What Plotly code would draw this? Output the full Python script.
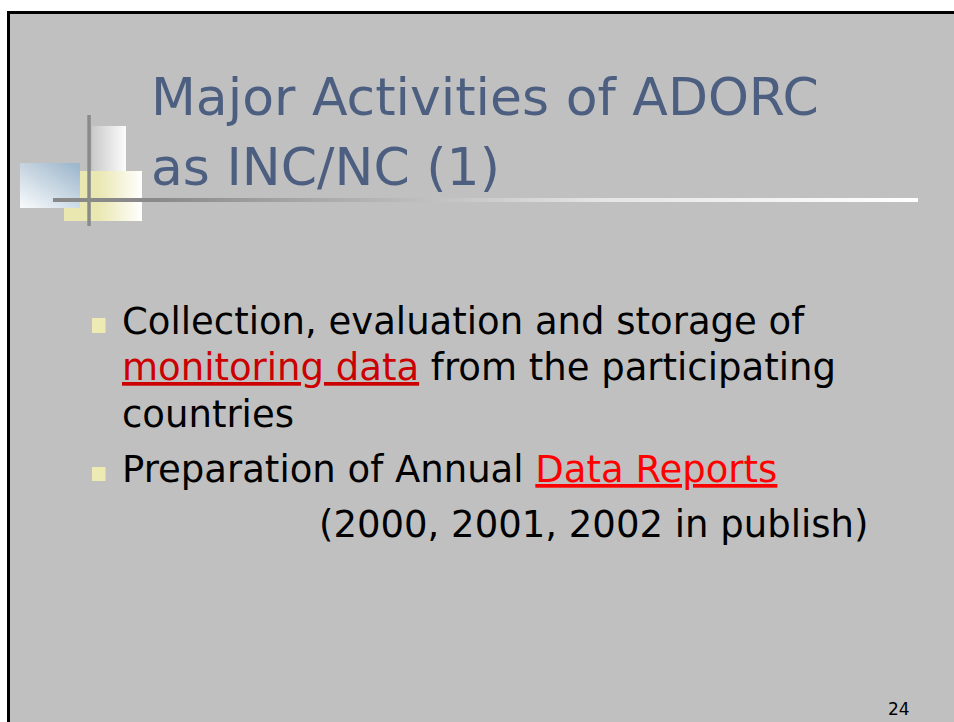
import plotly.graph_objects as go

W, H = 954, 722
FONT = "DejaVu Sans"

# ---- slide content ----
title_lines = ["Major Activities of ADORC", "as INC/NC (1)"]
bullet1_lines = [
    "Collection, evaluation and storage of",
    "<span style='color:#CC0000'><u>monitoring data</u></span> from the participating",
    "countries",
]
bullet2_lines = [
    "Preparation of Annual <span style='color:#FF0000'><u>Data Reports</u></span>",
]
bullet2_sub = ["(2000, 2001, 2002 in publish)"]
page_number = ["24"]

# ---- style / layout constants ----
TITLE_COLOR = "#4D5F80"
TITLE_SIZE = 52
BODY_SIZE = 37
ASC = 0.928  # DejaVu Sans ascender ratio

fig = go.Figure()


def grad_rect(x0, x1, y0, y1, colorscale, kind):
    if kind == "horizontal":
        start, stop = x0, x1
    else:
        start, stop = y0, y1
    fig.add_trace(go.Scatter(
        x=[x0, x1, x1, x0, x0], y=[y0, y0, y1, y1, y0],
        mode="lines", line=dict(width=0), fill="toself",
        fillgradient=dict(type=kind, colorscale=colorscale, start=start, stop=stop),
        hoverinfo="skip", showlegend=False))


# background slide with black border
fig.add_shape(type="rect", x0=8.5, y0=12.5, x1=W + 20, y1=H + 20,
              fillcolor="#C0C0C0", line=dict(color="black", width=3), layer="below")

# decorative blocks
grad_rect(64, 142, 171, 221, [[0, "#EAE8B0"], [0.45, "#EAE8B2"], [1, "#FFFFFF"]], "horizontal")
grad_rect(92, 126, 126, 171, [[0, "#CACACA"], [1, "#FCFCFC"]], "horizontal")
grad_rect(20, 80, 163, 208, [[0, "#A6BCCE"], [1, "#F6F9FB"]], "vertical")
grad_rect(20, 80, 163, 208, [[0, "rgba(255,255,255,0.35)"], [1, "rgba(130,165,195,0.35)"]], "horizontal")

# title underline with gradient
grad_rect(53, 918, 198, 202, [[0, "#888888"], [0.12, "#8A8A8A"], [0.45, "#C2C2C2"],
                              [0.63, "#E4E4E4"], [1, "#FFFFFF"]], "horizontal")

# vertical gray bar
fig.add_shape(type="rect", x0=87.3, x1=90.8, y0=115, y1=226,
              fillcolor="#8A8A8A", line=dict(width=0))

# bullets
for (by0, by1) in [(318, 333), (467, 481)]:
    fig.add_shape(type="rect", x0=92, x1=105.5, y0=by0, y1=by1,
                  fillcolor="#EDEBB3", line=dict(width=0))


def text_line(txt, x, baseline, size, color, xanchor="left"):
    fig.add_annotation(
        x=x, y=baseline - ASC * size, xref="x", yref="y",
        text=txt, showarrow=False, xanchor=xanchor, yanchor="top",
        borderpad=0, borderwidth=0,
        font=dict(family=FONT, size=size, color=color), align="left")


# title
for txt, bl in zip(title_lines, [115, 185]):
    text_line(txt, 151, bl, TITLE_SIZE, TITLE_COLOR)

# bullet 1
for txt, bl in zip(bullet1_lines, [334, 380.5, 427]):
    text_line(txt, 122, bl, BODY_SIZE, "black")

# bullet 2
for txt, bl in zip(bullet2_lines, [482]):
    text_line(txt, 122, bl, BODY_SIZE, "black")
for txt, bl in zip(bullet2_sub, [537]):
    text_line(txt, 593, bl, BODY_SIZE, "black", xanchor="center")

# page number
text_line(page_number[0], 899, 715, 17, "black", xanchor="center")

fig.update_layout(
    width=W, height=H, margin=dict(l=0, r=0, t=0, b=0),
    paper_bgcolor="white", plot_bgcolor="white", showlegend=False,
    xaxis=dict(range=[0, W], visible=False, fixedrange=True),
    yaxis=dict(range=[H, 0], visible=False, fixedrange=True),
)

fig.write_html("out.html", config={"displayModeBar": False},
               post_script="document.body.style.margin='0px';document.body.style.overflow='hidden';")
